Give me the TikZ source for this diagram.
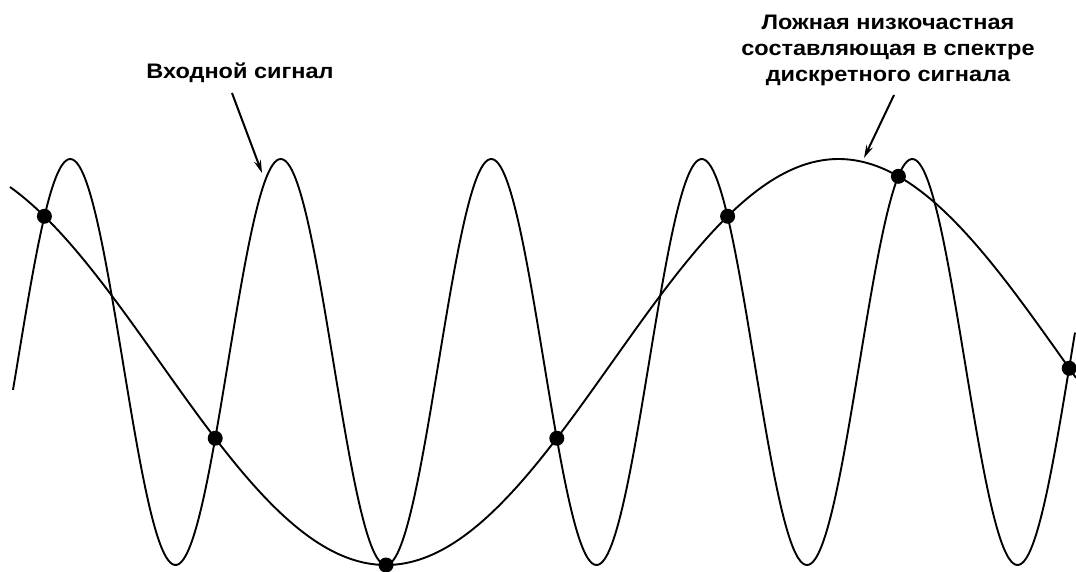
\documentclass[tikz,border=0pt]{standalone}
\usepackage{fontspec}
\setmainfont{Liberation Sans}
\usetikzlibrary{arrows.meta}
\begin{document}
\begin{tikzpicture}[x=1pt,y=-1pt,
  curve/.style={line width=1.9pt,black},
  dot/.style={circle,fill=black,inner sep=0pt,minimum size=15pt},
  lbl/.style={font=\fontsize{21}{26}\selectfont\bfseries,inner sep=0pt,align=center,xscale=1.12},
  pointer/.style={line width=2pt,-{Stealth[length=13pt,width=7pt]}}]
\useasboundingbox (0,0) rectangle (1076,571);
% fast input signal
\draw[curve,domain=13:1075,samples=500,smooth] plot (\x,{362+203*cos((\x-386)/210.5*360)});
% slow alias
\draw[curve,domain=10:1076,samples=200,smooth] plot (\x,{362+203*cos((\x-386)/905*360)});
% samples
\foreach \k in {-2,...,4}{
  \pgfmathsetmacro\sx{386+170.8*\k}
  \pgfmathsetmacro\sy{362+203*cos((\sx-386)/905*360)}
  \node[dot] (s\k) at (\sx,\sy) {};
}
% labels
\node[lbl,anchor=base] (inp) at (240,78) {Входной сигнал};
\node[lbl,anchor=north] (ali) at (888,15) {Ложная низкочастная\\составляющая в спектре\\дискретного сигнала};
\coordinate (a1s) at (232,93);
\coordinate (a1e) at (262,173);
\coordinate (a2s) at (894,95);
\coordinate (a2e) at (864,158);
\draw[pointer] (a1s) -- (a1e);
\draw[pointer] (a2s) -- (a2e);
\end{tikzpicture}
\end{document}
